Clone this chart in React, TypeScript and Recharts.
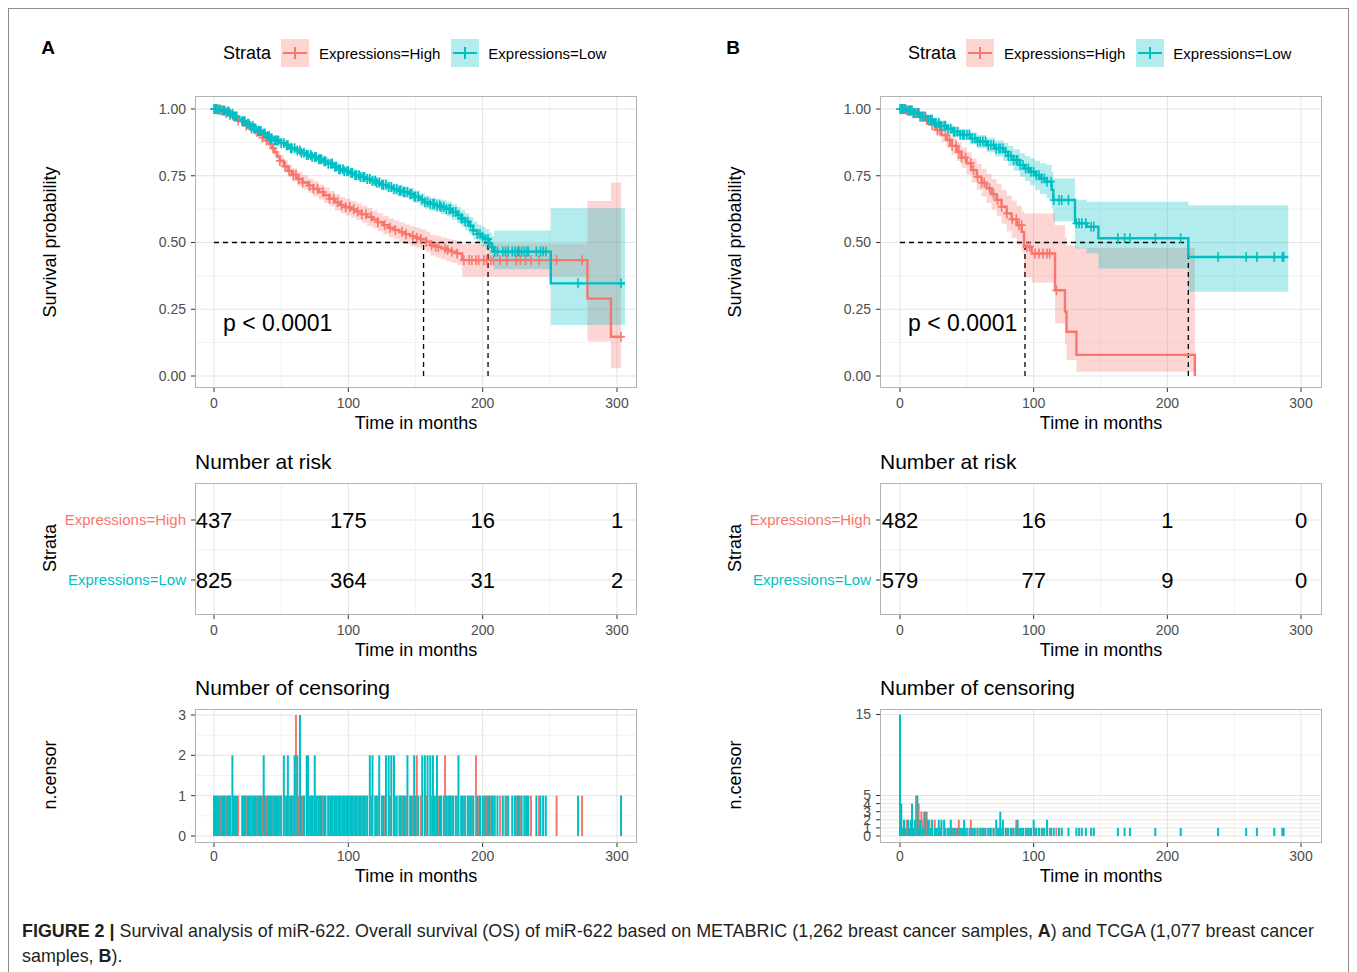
import React from 'react';
import { ComposedChart, Line, Area, Scatter, XAxis, YAxis, CartesianGrid, ReferenceLine } from 'recharts';

const RED = '#F8766D';
const TEAL = '#00BFC4';
const FONT = '"Liberation Sans", Arial, Helvetica, sans-serif';

type Row = [number, number, number, number]; // time, survival, lower, upper
type Cens = [number, number]; // time, n.censor

const timeTicks = [0, 100, 200, 300];
const survTicks = [0, 0.25, 0.5, 0.75, 1];
const strataNames = ['Expressions=High', 'Expressions=Low'];

// ---- Panel A: METABRIC ----
const survHighA: Row[] = [
  [0, 1, 1, 1], [3, 0.997, 0.994, 1], [6, 0.992, 0.987, 0.997], [9, 0.985, 0.979, 0.991],
  [12, 0.977, 0.969, 0.985], [15, 0.967, 0.958, 0.976], [18, 0.957, 0.947, 0.967], [21, 0.947, 0.936, 0.958],
  [24, 0.937, 0.925, 0.949], [27, 0.926, 0.913, 0.939], [30, 0.914, 0.9, 0.928], [33, 0.904, 0.889, 0.919],
  [36, 0.893, 0.877, 0.909], [39, 0.882, 0.865, 0.899], [41, 0.868, 0.85, 0.886], [43, 0.853, 0.834, 0.872],
  [45, 0.838, 0.818, 0.858], [47, 0.822, 0.801, 0.843], [49, 0.806, 0.784, 0.828], [52, 0.785, 0.762, 0.808],
  [55, 0.768, 0.744, 0.792], [58, 0.753, 0.728, 0.778], [62, 0.738, 0.712, 0.764], [66, 0.725, 0.698, 0.752],
  [70, 0.713, 0.686, 0.74], [74, 0.701, 0.673, 0.729], [78, 0.689, 0.661, 0.717], [82, 0.677, 0.648, 0.706],
  [86, 0.664, 0.635, 0.693], [90, 0.651, 0.621, 0.681], [94, 0.64, 0.61, 0.67], [98, 0.632, 0.601, 0.663],
  [102, 0.624, 0.593, 0.655], [106, 0.616, 0.584, 0.648], [110, 0.606, 0.574, 0.638], [114, 0.596, 0.563, 0.629],
  [118, 0.586, 0.553, 0.619], [122, 0.576, 0.542, 0.61], [126, 0.565, 0.531, 0.599], [130, 0.555, 0.52, 0.59],
  [134, 0.547, 0.512, 0.582], [138, 0.539, 0.503, 0.575], [142, 0.531, 0.495, 0.567], [146, 0.524, 0.487, 0.561],
  [150, 0.518, 0.481, 0.555], [154, 0.512, 0.474, 0.55], [158, 0.503, 0.465, 0.541], [161, 0.49, 0.451, 0.529],
  [165, 0.484, 0.444, 0.524], [169, 0.478, 0.437, 0.519], [173, 0.472, 0.43, 0.514], [177, 0.466, 0.423, 0.509],
  [181, 0.459, 0.415, 0.503], [184.8, 0.434, 0.372, 0.495], [278, 0.29, 0.129, 0.655], [295.5, 0.147, 0.029, 0.725],
  [303, 0.147, 0.029, 0.725],
];

const survLowA: Row[] = [
  [0, 1, 1, 1], [3, 0.998, 0.996, 1], [6, 0.994, 0.99, 0.998], [9, 0.99, 0.986, 0.994],
  [12, 0.982, 0.977, 0.987], [15, 0.972, 0.966, 0.978], [18, 0.962, 0.955, 0.969], [21, 0.954, 0.947, 0.961],
  [24, 0.945, 0.937, 0.953], [27, 0.936, 0.928, 0.944], [30, 0.927, 0.918, 0.936], [33, 0.918, 0.909, 0.927],
  [36, 0.908, 0.898, 0.918], [39, 0.899, 0.889, 0.909], [42, 0.89, 0.88, 0.9], [45, 0.882, 0.871, 0.893],
  [49, 0.873, 0.861, 0.885], [53, 0.864, 0.852, 0.876], [57, 0.853, 0.84, 0.866], [61, 0.845, 0.832, 0.858],
  [65, 0.836, 0.822, 0.85], [69, 0.828, 0.814, 0.842], [73, 0.82, 0.805, 0.835], [77, 0.812, 0.797, 0.827],
  [81, 0.804, 0.789, 0.819], [85, 0.795, 0.779, 0.811], [89, 0.784, 0.768, 0.8], [93, 0.774, 0.758, 0.79],
  [97, 0.767, 0.75, 0.784], [101, 0.76, 0.743, 0.777], [105, 0.752, 0.734, 0.77], [109, 0.745, 0.727, 0.763],
  [113, 0.738, 0.72, 0.756], [117, 0.731, 0.712, 0.75], [121, 0.724, 0.705, 0.743], [125, 0.716, 0.696, 0.736],
  [129, 0.708, 0.688, 0.728], [133, 0.7, 0.68, 0.72], [137, 0.694, 0.673, 0.715], [141, 0.689, 0.668, 0.71],
  [145, 0.682, 0.66, 0.704], [149, 0.672, 0.649, 0.695], [153, 0.661, 0.638, 0.684], [157, 0.651, 0.627, 0.675],
  [161, 0.644, 0.619, 0.669], [165, 0.639, 0.613, 0.665], [169, 0.633, 0.606, 0.66], [173, 0.625, 0.597, 0.653],
  [177, 0.614, 0.585, 0.643], [181, 0.603, 0.573, 0.633], [184, 0.59, 0.559, 0.621], [187, 0.578, 0.546, 0.61],
  [190, 0.563, 0.53, 0.596], [193, 0.545, 0.511, 0.579], [196, 0.532, 0.497, 0.567], [199, 0.522, 0.485, 0.559],
  [202, 0.513, 0.475, 0.551], [205, 0.497, 0.457, 0.537], [207, 0.482, 0.44, 0.524], [208.5, 0.466, 0.4, 0.545],
  [250.7, 0.347, 0.191, 0.628], [306, 0.347, 0.191, 0.628],
];

const medianA = [156, 204]; // High, Low
const riskHighA = [437, 175, 16, 1];
const riskLowA = [825, 364, 31, 2];

const censHighA: Cens[] = [
  [1, 1], [5, 1], [9, 1], [12, 1], [14, 1], [18, 1], [24, 1], [28, 1], [32, 1], [36, 1], [39, 1], [44, 1],
  [49, 1], [53, 1], [56, 1], [59, 1], [61, 3], [63, 1], [66, 1], [71, 1], [74, 1], [77, 1], [81, 1], [86, 1],
  [89, 1], [92, 1], [95, 1], [98, 1], [101, 1], [104, 1], [107, 1], [110, 1], [113, 1], [117, 1], [122, 1],
  [127, 1], [131, 1], [135, 1], [140, 1], [143, 1], [148, 1], [151, 2], [154, 1], [158, 1], [162, 1], [165, 1],
  [167, 1], [172, 2], [174, 1], [177, 1], [181, 1], [186, 1], [190, 1], [192, 1], [195, 2], [197, 1], [201, 1],
  [203, 1], [206, 1], [208, 1], [213, 1], [218, 1], [225, 1], [228, 1], [232, 1], [236, 1], [242, 1], [255, 1],
  [274, 1], [303, 1],
];

const censLowA: Cens[] = [
  [0, 1], [1, 1], [2, 1], [3, 1], [4, 1], [6, 1], [7, 1], [8, 1], [10, 1], [11, 1], [12, 1], [13.7, 2], [15, 1],
  [16, 1], [17, 1], [21, 1], [22, 1], [23, 1], [25, 1], [26, 1], [27, 1], [29, 1], [30, 1], [31, 1], [33, 1],
  [34, 1], [35, 1], [37, 2], [38, 1], [40, 1], [41, 1], [42, 1], [43, 1], [45, 1], [46, 1], [47, 1], [48, 1],
  [50, 1], [52, 2], [54, 1], [55, 2], [57, 1], [58, 1], [60, 2], [62, 2], [64, 3], [65, 1], [67, 1], [69, 2],
  [70, 2], [72, 1], [73, 1], [75, 2], [76, 1], [78, 1], [79, 1], [80, 1], [82, 1], [83, 1], [85, 1], [87, 1],
  [88, 1], [90, 1], [91, 1], [93, 1], [94, 1], [96, 1], [97, 1], [99, 1], [100, 1], [102, 1], [103, 1], [105, 1],
  [106, 1], [108, 1], [109, 1], [111, 1], [112, 1], [114, 1], [116, 2], [118, 2], [120, 1], [121, 1], [123, 2],
  [125, 1], [126, 1], [128, 2], [130, 2], [132, 2], [134, 2], [136, 1], [138, 1], [139, 1], [141, 1], [142, 1],
  [144, 2], [146, 1], [147, 1], [149, 2], [150, 1], [152, 1], [155, 2], [157, 2], [159, 2], [161, 2], [163, 2],
  [164, 1], [166, 2], [168, 1], [169, 1], [171, 1], [173, 1], [175, 1], [176, 1], [178, 1], [180, 1], [182, 2],
  [184, 1], [185, 1], [187, 1], [189, 1], [191, 1], [193, 1], [196, 1], [198, 1], [200, 1], [202, 1], [204, 1],
  [205, 1], [207, 1], [209, 1], [211, 1], [215, 1], [217, 1], [219, 1], [222, 1], [224, 1], [226, 1], [227, 1],
  [229, 1], [231, 1], [233, 1], [234, 1], [240, 1], [243, 1], [245, 1], [247, 1], [271, 1], [303, 1],
];

// ---- Panel B: TCGA ----
const survHighB: Row[] = [
  [0, 1, 1, 1], [5, 0.995, 0.99, 1], [10, 0.984, 0.975, 0.994], [15, 0.972, 0.96, 0.985],
  [20, 0.959, 0.944, 0.974], [24, 0.94, 0.92, 0.958], [27.4, 0.921, 0.898, 0.944], [31, 0.902, 0.876, 0.928],
  [34.9, 0.884, 0.855, 0.912], [38.5, 0.862, 0.83, 0.893], [42.4, 0.84, 0.805, 0.875], [46, 0.818, 0.78, 0.856],
  [49.9, 0.797, 0.755, 0.838], [53.5, 0.771, 0.726, 0.815], [57.4, 0.746, 0.697, 0.794], [61, 0.724, 0.672, 0.775],
  [64.8, 0.703, 0.648, 0.757], [68.5, 0.681, 0.623, 0.738], [72.3, 0.659, 0.598, 0.72], [76, 0.634, 0.57, 0.698],
  [79.8, 0.609, 0.542, 0.676], [83.5, 0.587, 0.518, 0.657], [87.3, 0.565, 0.493, 0.638], [91.1, 0.54, 0.463, 0.617],
  [92.8, 0.484, 0.37, 0.609], [98.5, 0.459, 0.35, 0.609], [116, 0.321, 0.197, 0.565], [123.4, 0.241, 0.12, 0.52],
  [124.6, 0.166, 0.06, 0.49], [132, 0.079, 0.016, 0.48], [220.6, 0, 0, 0],
];

const survLowB: Row[] = [
  [0, 1, 1, 1], [5, 0.994, 0.99, 0.998], [10, 0.985, 0.978, 0.992], [15, 0.971, 0.962, 0.98],
  [20, 0.96, 0.949, 0.971], [25, 0.948, 0.936, 0.96], [30, 0.937, 0.924, 0.95], [35, 0.926, 0.911, 0.94],
  [39.9, 0.915, 0.898, 0.932], [45, 0.904, 0.885, 0.923], [52.4, 0.89, 0.868, 0.912], [58, 0.878, 0.853, 0.903],
  [64.8, 0.865, 0.838, 0.892], [71, 0.852, 0.822, 0.882], [77.3, 0.84, 0.806, 0.873], [81, 0.824, 0.787, 0.861],
  [84.8, 0.809, 0.769, 0.849], [89.8, 0.79, 0.746, 0.834], [93.5, 0.777, 0.73, 0.824], [97.3, 0.765, 0.714, 0.816],
  [101, 0.752, 0.697, 0.806], [104.7, 0.74, 0.682, 0.797], [109.7, 0.728, 0.665, 0.79], [113.5, 0.697, 0.628, 0.764],
  [114.7, 0.659, 0.58, 0.74], [130.9, 0.572, 0.478, 0.66], [139.6, 0.559, 0.46, 0.653], [148.4, 0.516, 0.403, 0.653],
  [215.7, 0.446, 0.316, 0.64], [290.5, 0.446, 0.316, 0.64],
];

const medianB = [93.5, 215.7];
const riskHighB = [482, 16, 1, 0];
const riskLowB = [579, 77, 9, 0];

const censHighB: Cens[] = [
  [2, 1], [4, 1], [5, 2], [8, 1], [10, 1], [12, 5], [14, 4], [16, 3], [17, 2], [18, 3], [20, 3], [22, 2],
  [24, 1], [26, 2], [28, 1], [30, 1], [34, 1], [37, 1], [39, 1], [42, 1], [44, 2], [46, 1], [49, 1], [53, 2],
  [55, 1], [58, 1], [61, 1], [63, 1], [67, 1], [70, 1], [73, 1], [76, 1], [80, 1], [84, 1], [87, 2], [89, 1],
  [91, 1], [95, 1], [97, 1], [101, 1], [104, 1], [107, 1], [110, 1], [112, 1], [117, 1],
];

const censLowB: Cens[] = [
  [0, 15], [1, 4], [2, 1], [3, 2], [4, 1], [6, 2], [7, 1], [8, 2], [9, 4], [10, 1], [11, 2], [13, 5], [14, 1],
  [15, 2], [17, 1], [19, 3], [21, 2], [23, 1], [24, 2], [26, 1], [27, 1], [29, 2], [30, 1], [31, 2], [33, 2],
  [34, 1], [36, 1], [38, 2], [40, 1], [41, 1], [43, 1], [45, 1], [47, 1], [48, 2], [50, 1], [52, 1], [54, 1],
  [56, 1], [58, 1], [60, 1], [62, 1], [64, 1], [66, 1], [68, 1], [70, 1], [72, 2], [74, 1], [75, 3], [77, 2],
  [79, 1], [81, 1], [83, 1], [85, 1], [87, 1], [88, 2], [90, 1], [92, 1], [94, 1], [96, 1], [98, 1], [100, 2],
  [102, 1], [104, 1], [106, 1], [108, 1], [110, 2], [113, 1], [115, 1], [119, 1], [121, 1], [126, 1], [132, 1],
  [134, 1], [136, 1], [139, 1], [143, 1], [145, 1], [163, 1], [168, 1], [172, 1], [191, 1], [210, 1], [238, 1],
  [259, 1], [267, 1], [280, 1], [286, 1], [287, 1],
];

// ---- helpers ----
const toPoints = (rows: Row[]) => rows.map(([t, s, lo, hi]) => ({ t, s, band: [lo, hi] }));
const survAt = (rows: Row[], t: number) => {
  let s = rows[0][1];
  for (const r of rows) if (r[0] <= t) s = r[1];
  return s;
};
const censorMarks = (rows: Row[], cens: Cens[]) => cens.map(([t]) => ({ t, s: survAt(rows, t) }));

const crossShape = (color: string) => (props: any) => {
  const { cx, cy } = props;
  if (cx == null || cy == null) return <g />;
  return (
    <g stroke={color} strokeWidth={1.6}>
      <line x1={cx - 4} x2={cx + 4} y1={cy} y2={cy} />
      <line x1={cx} x2={cx} y1={cy - 5} y2={cy + 5} />
    </g>
  );
};

const tickStyle = { fill: '#4d4d4d', fontSize: 14, fontFamily: FONT };
const PAD = 10; // room above each plot box for the top tick label

const Txt = ({ x, y, size, children, rotate, bold, anchor }: any) => (
  <div
    style={{
      position: 'absolute', left: x, top: y, fontSize: size, fontFamily: FONT, color: '#000',
      fontWeight: bold ? 'bold' : 'normal', whiteSpace: 'nowrap', lineHeight: 1,
      transform: `translate(${anchor === 'start' ? '0' : '-50%'}, -50%)${rotate ? ' rotate(-90deg)' : ''}`,
    }}
  >
    {children}
  </div>
);

const Frame = ({ left, top, width, height }: any) => (
  <div style={{ position: 'absolute', left, top, width, height, border: '1px solid #b3b3b3', boxSizing: 'border-box', pointerEvents: 'none' }} />
);

const LegendKey = ({ color }: { color: string }) => (
  <svg width={28} height={28} style={{ display: 'block' }}>
    <rect width={28} height={28} fill={color} fillOpacity={0.3} />
    <line x1={2} x2={26} y1={14} y2={14} stroke={color} strokeWidth={2} />
    <line x1={14} x2={14} y1={8} y2={20} stroke={color} strokeWidth={2} />
  </svg>
);

const StrataTick = (props: any) => {
  const { x, y, payload } = props;
  const high = payload.value === 2;
  return (
    <text x={x} y={y} dy={5} textAnchor="end" fontSize={15} fontFamily={FONT} fill={high ? RED : TEAL}>
      {high ? strataNames[0] : strataNames[1]}
    </text>
  );
};

const riskShape = (props: any) => {
  const { cx, cy, payload } = props;
  return (
    <text x={cx} y={cy} dy={8} textAnchor="middle" fontSize={22} fontFamily={FONT} fill="#000">
      {payload.n}
    </text>
  );
};

function Panel({ dx, x0, x300, label, high, low, censHigh, censLow, median, riskHigh, riskLow, censTicks, censDomain }: any) {
  const left = 195 + dx;
  const right = 637 + dx;
  const k = (x300 - x0) / 300;
  const xDomain = [(left - x0) / k, (right - x0) / k];
  const width = right - left;
  const cx = (left + right) / 2;
  const YW = 60;
  const RW = 150;

  const xAxisProps = {
    type: 'number' as const, dataKey: 't', domain: xDomain, ticks: timeTicks, allowDataOverflow: true,
    axisLine: false, tickSize: 4, tickLine: { stroke: '#333' }, tick: tickStyle, interval: 0 as const,
  };
  const margin = { top: PAD, right: 0, bottom: 0, left: 0 };

  const riskData = timeTicks.flatMap((t, i) => [
    { t, row: 2, n: riskHigh[i] },
    { t, row: 1, n: riskLow[i] },
  ]);

  const medMax = Math.max(...median);
  const censMinor = censTicks.length > 4 ? [0.5, 1.5, 2.5, 3.5, 4.5, 10] : [0.5, 1.5, 2.5];

  return (
    <>
      <Txt x={48 + dx} y={47} size={19} bold>{label}</Txt>
      <div style={{ position: 'absolute', left: 223 + dx, top: 39, height: 28, display: 'flex', alignItems: 'center', fontFamily: FONT, whiteSpace: 'nowrap' }}>
        <span style={{ fontSize: 18, marginRight: 10 }}>Strata</span>
        <LegendKey color={RED} />
        <span style={{ fontSize: 15, marginLeft: 10, marginRight: 11 }}>{strataNames[0]}</span>
        <LegendKey color={TEAL} />
        <span style={{ fontSize: 15, marginLeft: 9 }}>{strataNames[1]}</span>
      </div>

      {/* survival curves */}
      <Txt x={50 + dx} y={242} size={18} rotate>Survival probability</Txt>
      <div style={{ position: 'absolute', left: left - YW, top: 96 - PAD }}>
        <ComposedChart width={width + YW} height={292 + 30 + PAD} margin={margin}>
          <CartesianGrid stroke="#f2f2f2" verticalValues={[50, 150, 250]} horizontalValues={[0.125, 0.375, 0.625, 0.875]} />
          <CartesianGrid stroke="#e3e3e3" verticalValues={timeTicks} horizontalValues={survTicks} />
          <XAxis {...xAxisProps} height={30} tickMargin={6} />
          <YAxis type="number" domain={[-0.0449, 1.0487]} ticks={survTicks} allowDataOverflow width={YW} axisLine={false}
            tickSize={4} tickMargin={5} tickLine={{ stroke: '#333' }} tick={tickStyle} tickFormatter={(v: number) => v.toFixed(2)} interval={0} />
          <Area data={toPoints(high)} dataKey="band" type="stepAfter" fill={RED} fillOpacity={0.3} stroke="none" isAnimationActive={false} />
          <Area data={toPoints(low)} dataKey="band" type="stepAfter" fill={TEAL} fillOpacity={0.3} stroke="none" isAnimationActive={false} />
          <ReferenceLine segment={[{ x: 0, y: 0.5 }, { x: medMax, y: 0.5 }]} stroke="#000" strokeDasharray="5 4" strokeWidth={1.3} />
          {median.map((m: number, i: number) => (
            <ReferenceLine key={i} segment={[{ x: m, y: 0 }, { x: m, y: 0.5 }]} stroke="#000" strokeDasharray="5 4" strokeWidth={1.3} />
          ))}
          <Line data={toPoints(high)} dataKey="s" type="stepAfter" stroke={RED} strokeWidth={2.4} dot={false} isAnimationActive={false} />
          <Line data={toPoints(low)} dataKey="s" type="stepAfter" stroke={TEAL} strokeWidth={2.4} dot={false} isAnimationActive={false} />
          <Scatter data={censorMarks(high, censHigh)} dataKey="s" shape={crossShape(RED)} isAnimationActive={false} />
          <Scatter data={censorMarks(low, censLow)} dataKey="s" shape={crossShape(TEAL)} isAnimationActive={false} />
        </ComposedChart>
      </div>
      <Frame left={left} top={96} width={width} height={292} />
      <Txt x={223 + dx} y={323} size={23} anchor="start">p &lt; 0.0001</Txt>
      <Txt x={cx} y={423} size={18}>Time in months</Txt>

      {/* risk table */}
      <Txt x={195 + dx} y={461} size={21} anchor="start">Number at risk</Txt>
      <Txt x={50 + dx} y={548} size={18} rotate>Strata</Txt>
      <div style={{ position: 'absolute', left: left - RW, top: 483 - PAD }}>
        <ComposedChart width={width + RW} height={132 + 30 + PAD} margin={margin}>
          <CartesianGrid stroke="#f2f2f2" verticalValues={[50, 150, 250]} horizontalValues={[1.5]} />
          <CartesianGrid stroke="#e3e3e3" verticalValues={timeTicks} horizontalValues={[1, 2]} />
          <XAxis {...xAxisProps} height={30} tickMargin={6} />
          <YAxis type="number" domain={[0.4167, 2.617]} ticks={[1, 2]} allowDataOverflow width={RW} axisLine={false}
            tickSize={4} tickMargin={5} tickLine={{ stroke: '#333' }} tick={<StrataTick />} interval={0} />
          <Scatter data={riskData} dataKey="row" shape={riskShape} isAnimationActive={false} />
        </ComposedChart>
      </div>
      <Frame left={left} top={483} width={width} height={132} />
      <Txt x={cx} y={650} size={18}>Time in months</Txt>

      {/* censoring */}
      <Txt x={195 + dx} y={687} size={21} anchor="start">Number of censoring</Txt>
      <Txt x={50 + dx} y={775} size={18} rotate>n.censor</Txt>
      <div style={{ position: 'absolute', left: left - YW, top: 709 - PAD }}>
        <ComposedChart width={width + YW} height={134 + 30 + PAD} margin={margin}>
          <CartesianGrid stroke="#f2f2f2" verticalValues={[50, 150, 250]} horizontalValues={censMinor} />
          <CartesianGrid stroke="#e3e3e3" verticalValues={timeTicks} horizontalValues={censTicks} />
          <XAxis {...xAxisProps} height={30} tickMargin={4} />
          <YAxis type="number" domain={censDomain} ticks={censTicks} allowDataOverflow width={YW} axisLine={false}
            tickSize={4} tickMargin={5} tickLine={{ stroke: '#333' }} tick={tickStyle} interval={0} />
          <Scatter data={censHigh.map(([t, n]: Cens) => ({ t, n }))} dataKey="n" shape={() => <g />} isAnimationActive={false} />
          {censHigh.map(([t, n]: Cens, i: number) => (
            <ReferenceLine key={'h' + i} segment={[{ x: t, y: 0 }, { x: t, y: n }]} stroke={RED} strokeWidth={2} />
          ))}
          {censLow.map(([t, n]: Cens, i: number) => (
            <ReferenceLine key={'l' + i} segment={[{ x: t, y: 0 }, { x: t, y: n }]} stroke={TEAL} strokeWidth={2} />
          ))}
        </ComposedChart>
      </div>
      <Frame left={left} top={709} width={width} height={134} />
      <Txt x={cx} y={876} size={18}>Time in months</Txt>
    </>
  );
}

export default function App() {
  return (
    <div style={{ position: 'absolute', left: 0, top: 0, width: 1357, height: 972, overflow: 'hidden', background: '#fff', fontFamily: FONT }}>
      <div style={{ position: 'absolute', left: 8, top: 8, width: 1341, height: 980, border: '1px solid #8c8c8c', boxSizing: 'border-box' }} />
      <Panel dx={0} x0={214} x300={617} label="A" high={survHighA} low={survLowA} censHigh={censHighA} censLow={censLowA}
        median={medianA} riskHigh={riskHighA} riskLow={riskLowA} censTicks={[0, 1, 2, 3]} censDomain={[-0.1736, 3.149]} />
      <Panel dx={685} x0={900} x300={1301} label="B" high={survHighB} low={survLowB} censHigh={censHighB} censLow={censLowB}
        median={medianB} riskHigh={riskHighB} riskLow={riskLowB} censTicks={[0, 1, 2, 3, 4, 5, 15]} censDomain={[-0.864, 15.68]} />
      <div style={{ position: 'absolute', left: 22, top: 919, fontSize: 17.9, lineHeight: '25px', color: '#231f20', fontFamily: FONT, whiteSpace: 'nowrap' }}>
        <div><b>FIGURE 2 |</b> Survival analysis of miR-622. Overall survival (OS) of miR-622 based on METABRIC (1,262 breast cancer samples, <b>A</b>) and TCGA (1,077 breast cancer</div>
        <div>samples, <b>B</b>).</div>
      </div>
    </div>
  );
}
